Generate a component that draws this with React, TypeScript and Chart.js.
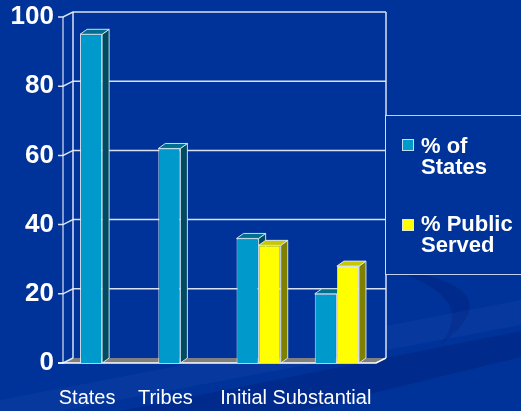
import React, { useEffect, useRef } from "react";
import { Chart, registerables } from "chart.js";

Chart.register(...registerables);

// ---- data ----
const categories = ["States", "Tribes", "Initial", "Substantial"];
const pctOfStates = [95, 62, 36, 20];
const pctPublicServed = [null, null, 34, 28];
const seriesNames = ["% of States", "% Public Served"];
const legendLines = [["% of", "States"], ["% Public", "Served"]];

// ---- styles ----
const FRONT = ["#0099CC", "#FFFF00"];
const SIDE = ["#004A62", "#7F7F00"];
const TOP = ["#00708F", "#C8C800"];
const BAR_DX = 7;
const BAR_DY = -5;
const WALL_DX = 10;
const WALL_DY = -5;
const LINE = "rgba(235,240,250,0.92)";

const backgroundPlugin = {
  id: "bgPlugin",
  beforeDraw(chart: any) {
    const ctx = chart.ctx;
    const w = chart.width;
    const h = chart.height;
    ctx.save();
    ctx.fillStyle = "#003399";
    ctx.fillRect(0, 0, w, h);
    // big subtle swirl behind plot
    ctx.strokeStyle = "rgba(0,28,115,0.22)";
    ctx.lineWidth = 26;
    ctx.beginPath();
    ctx.ellipse(340, 330, 210, 140, 0, Math.PI * 1.02, Math.PI * 1.55);
    ctx.stroke();
    // crescent under legend
    ctx.fillStyle = "rgba(0,28,115,0.38)";
    ctx.beginPath();
    ctx.moveTo(385, 268);
    ctx.quadraticCurveTo(520, 285, 440, 345);
    ctx.quadraticCurveTo(480, 295, 385, 268);
    ctx.closePath();
    ctx.fill();
    // dark diagonal band
    ctx.fillStyle = "rgba(0,28,115,0.38)";
    ctx.beginPath();
    ctx.moveTo(120, 411);
    ctx.lineTo(521, 331);
    ctx.lineTo(521, 357);
    ctx.lineTo(300, 411);
    ctx.closePath();
    ctx.fill();
    // lighter band bottom-left
    ctx.fillStyle = "rgba(50,100,200,0.12)";
    ctx.beginPath();
    ctx.moveTo(0, 400);
    ctx.lineTo(521, 300);
    ctx.lineTo(521, 325);
    ctx.lineTo(60, 411);
    ctx.lineTo(0, 411);
    ctx.closePath();
    ctx.fill();
    ctx.restore();
  },
};

const wallsPlugin = {
  id: "wallsPlugin",
  beforeDatasetsDraw(chart: any) {
    const ctx = chart.ctx;
    const { left, right, top, bottom } = chart.chartArea;
    const ys = chart.scales.y;
    ctx.save();
    // back wall fill (to hide background inside plot)
    ctx.fillStyle = "#003399";
    ctx.fillRect(left + WALL_DX, top + WALL_DY, right - left, bottom - top);
    // floor
    ctx.fillStyle = "#808080";
    ctx.beginPath();
    ctx.moveTo(left, bottom);
    ctx.lineTo(right, bottom);
    ctx.lineTo(right + WALL_DX, bottom + WALL_DY);
    ctx.lineTo(left + WALL_DX, bottom + WALL_DY);
    ctx.closePath();
    ctx.fill();

    ctx.strokeStyle = LINE;
    ctx.lineWidth = 1.5;
    // back wall verticals
    ctx.beginPath();
    ctx.moveTo(left + WALL_DX, top + WALL_DY);
    ctx.lineTo(left + WALL_DX, bottom + WALL_DY);
    ctx.moveTo(right + WALL_DX, top + WALL_DY);
    ctx.lineTo(right + WALL_DX, bottom + WALL_DY);
    ctx.stroke();

    // grid lines with ticks
    ys.ticks.forEach((t: any) => {
      const py = ys.getPixelForValue(t.value);
      ctx.beginPath();
      ctx.moveTo(left - 5, py);
      ctx.lineTo(left, py);
      ctx.lineTo(left + WALL_DX, py + WALL_DY);
      if (t.value !== 0) ctx.lineTo(right + WALL_DX, py + WALL_DY);
      ctx.stroke();
    });

    // front left axis
    ctx.lineWidth = 1.2;
    ctx.beginPath();
    ctx.moveTo(left, top);
    ctx.lineTo(left, bottom);
    ctx.stroke();
    // floor front edge
    ctx.lineWidth = 1.5;
    ctx.strokeStyle = "#ffffff";
    ctx.beginPath();
    ctx.moveTo(left - 5, bottom);
    ctx.lineTo(right, bottom);
    ctx.lineTo(right + WALL_DX, bottom + WALL_DY);
    ctx.stroke();
    ctx.restore();
  },
  beforeDatasetDraw() {
    return false;
  },
  afterDatasetsDraw(chart: any) {
    const ctx = chart.ctx;
    const items: any[] = [];
    chart.data.datasets.forEach((ds: any, di: number) => {
      const meta = chart.getDatasetMeta(di);
      meta.data.forEach((el: any, j: number) => {
        if (ds.data[j] == null) return;
        items.push({ el, di });
      });
    });
    items.sort((a, b) => a.el.x - b.el.x);
    items.forEach(({ el, di }) => {
      const { x, y, base, width } = el.getProps(["x", "y", "base", "width"], true);
      const l = x - width / 2;
      const r = x + width / 2;
      el.draw(ctx, chart.chartArea);
      ctx.save();
      ctx.strokeStyle = "rgba(225,235,245,0.9)";
      ctx.lineWidth = 1;
      // side
      ctx.fillStyle = SIDE[di];
      ctx.beginPath();
      ctx.moveTo(r, y);
      ctx.lineTo(r + BAR_DX, y + BAR_DY);
      ctx.lineTo(r + BAR_DX, base + BAR_DY);
      ctx.lineTo(r, base);
      ctx.closePath();
      ctx.fill();
      ctx.stroke();
      // top
      ctx.fillStyle = TOP[di];
      ctx.beginPath();
      ctx.moveTo(l, y);
      ctx.lineTo(l + BAR_DX, y + BAR_DY);
      ctx.lineTo(r + BAR_DX, y + BAR_DY);
      ctx.lineTo(r, y);
      ctx.closePath();
      ctx.fill();
      ctx.stroke();
      ctx.restore();
    });
  },
};

const legendPlugin = {
  id: "legendBox",
  afterDraw(chart: any) {
    const ctx = chart.ctx;
    ctx.save();
    ctx.fillStyle = "#003399";
    ctx.fillRect(386, 116, 200, 158);
    ctx.strokeStyle = "rgba(215,225,245,0.9)";
    ctx.lineWidth = 1;
    ctx.strokeRect(385.5, 115.5, 200, 159);
    const boxY = [139, 219];
    const baseY = [153, 231];
    ctx.font = "bold 22px 'Liberation Sans', Arial, sans-serif";
    ctx.textAlign = "left";
    ctx.textBaseline = "alphabetic";
    chart.data.datasets.forEach((ds: any, i: number) => {
      ctx.fillStyle = FRONT[i];
      ctx.fillRect(402, boxY[i], 12, 12);
      ctx.strokeStyle = "rgba(220,230,245,0.9)";
      ctx.strokeRect(402.5, boxY[i] + 0.5, 11, 11);
      ctx.fillStyle = "#ffffff";
      legendLines[i].forEach((line, k) => {
        ctx.fillText(line, 421, baseY[i] + k * 21);
      });
    });
    ctx.restore();
  },
};

export default function App() {
  const ref = useRef<HTMLCanvasElement | null>(null);
  useEffect(() => {
    if (!ref.current) return;
    const chart = new Chart(ref.current, {
      type: "bar",
      data: {
        labels: categories,
        datasets: [
          {
            label: seriesNames[0],
            data: pctOfStates,
            backgroundColor: FRONT[0],
            borderColor: "rgba(225,235,245,0.9)",
            borderWidth: 1,
          },
          {
            label: seriesNames[1],
            data: pctPublicServed as any,
            backgroundColor: FRONT[1],
            borderColor: "rgba(225,235,245,0.9)",
            borderWidth: 1,
          },
        ],
      },
      options: {
        responsive: false,
        animation: false,
        layout: { padding: { top: 17, right: 145, left: 0, bottom: 0 } },
        datasets: { bar: { categoryPercentage: 0.565, barPercentage: 1 } },
        plugins: {
          legend: { display: false },
          tooltip: { enabled: false },
        },
        scales: {
          x: {
            grid: { display: false },
            border: { display: false },
            ticks: {
              color: "#ffffff",
              font: { family: "'Liberation Sans', Arial, sans-serif", size: 20 },
              padding: 15,
              labelOffset: -15,
              maxRotation: 0,
              autoSkip: false,
            },
            afterFit(s: any) {
              s.height = 48;
            },
          },
          y: {
            min: 0,
            max: 100,
            grid: { display: false },
            border: { display: false },
            ticks: {
              stepSize: 20,
              color: "#ffffff",
              padding: 1,
              font: { family: "'Liberation Sans', Arial, sans-serif", size: 26, weight: "bold" },
            },
            afterFit(s: any) {
              s.width = 63;
            },
          },
        },
      },
      plugins: [backgroundPlugin, wallsPlugin, legendPlugin],
    });
    return () => chart.destroy();
  }, []);
  return (
    <div style={{ position: "absolute", left: 0, top: 0, width: 521, height: 411 }}>
      <canvas ref={ref} width={521} height={411} style={{ display: "block" }} />
    </div>
  );
}
